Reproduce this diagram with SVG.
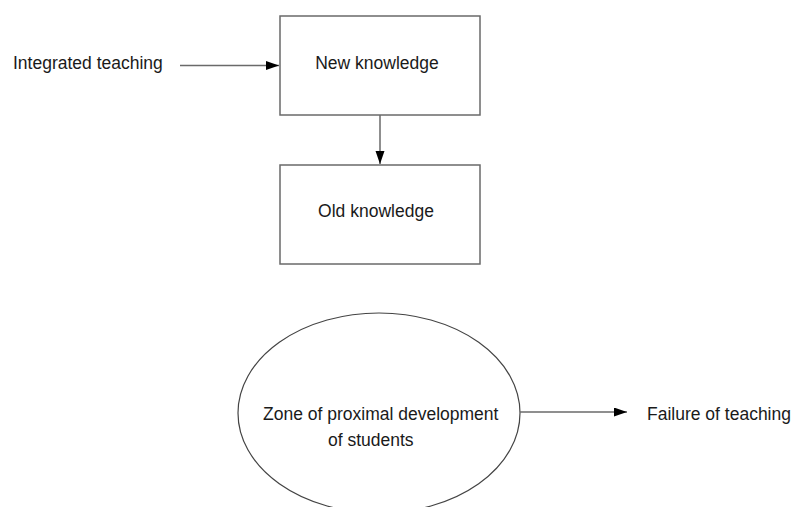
<svg xmlns="http://www.w3.org/2000/svg" width="792" height="507" viewBox="0 0 792 507">
<style>
text{font-family:"Liberation Sans",Arial,sans-serif;font-size:17.5px;fill:#1a1a1a}
.box{fill:#fff;stroke:#6a6a6a;stroke-width:1.5}
.ell{fill:#fff;stroke:#444;stroke-width:1.2}
.conn{fill:none;stroke:#6a6a6a;stroke-width:1.5}
</style>
<defs>
<marker id="ah" markerUnits="userSpaceOnUse" markerWidth="14" markerHeight="10" refX="13" refY="4.5" orient="auto">
<path d="M0,0 L13,4.5 L0,9 Z" fill="#000"/>
</marker>
</defs>
<rect width="792" height="507" fill="#fff"/>
<g id="integrated-teaching"><text x="13" y="69">Integrated teaching</text></g>
<g id="new-knowledge"><rect class="box" x="280" y="16" width="200" height="99"/><text x="377" y="69" text-anchor="middle">New knowledge</text></g>
<g id="old-knowledge"><rect class="box" x="280" y="165" width="200" height="99"/><text x="376" y="217" text-anchor="middle">Old knowledge</text></g>
<g id="zpd"><ellipse class="ell" cx="379" cy="413" rx="141" ry="100"/><text x="263" y="420">Zone of proximal development</text><text x="328" y="446">of students</text></g>
<g id="failure"><text x="647" y="420">Failure of teaching</text></g>
<g id="connectors">
<line class="conn" x1="180" y1="65.5" x2="279" y2="65.5" marker-end="url(#ah)"/>
<line class="conn" x1="380" y1="115" x2="380" y2="164" marker-end="url(#ah)"/>
<line class="conn" x1="520" y1="412" x2="627" y2="412" marker-end="url(#ah)"/>
</g>
</svg>
